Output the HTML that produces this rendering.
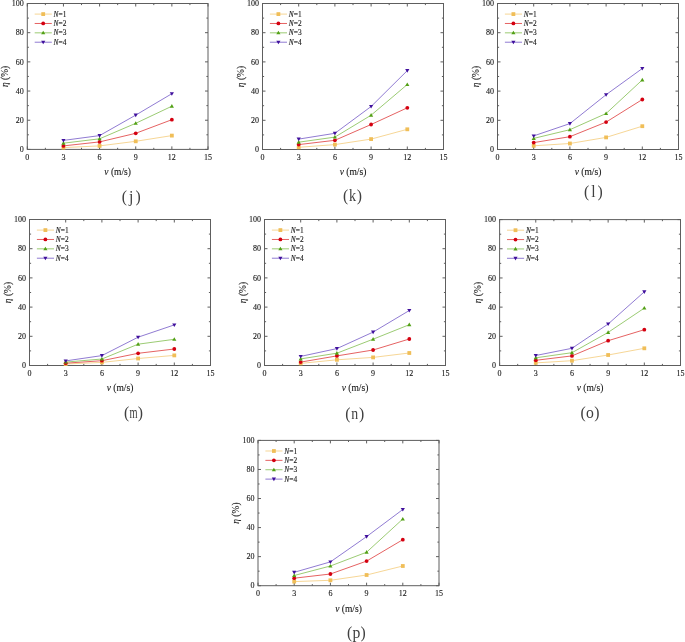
<!DOCTYPE html>
<html><head><meta charset="utf-8"><style>
html,body{margin:0;padding:0;background:#fff;}
body{width:685px;height:642px;overflow:hidden;}
svg{display:block;will-change:transform;}
text{font-family:"Liberation Serif",serif;fill:#1a1a1a;stroke:#1a1a1a;stroke-width:0.12px;}
.tl{font-size:8px;}
.at{font-size:9.5px;}
.lg{font-size:7.4px;}
.pl{font-size:15.7px;fill:#404040;stroke:none;}
</style></head><body>
<svg width="685" height="642" viewBox="0 0 685 642">
<g><rect x="27.3" y="3.5" width="180.7" height="145.9" fill="none" stroke="#5e5e5e" stroke-width="1"/><path d="M27.3 149.4v-3M27.3 3.5v3M45.37 149.4v-1.6M45.37 3.5v1.6M63.44 149.4v-3M63.44 3.5v3M81.51 149.4v-1.6M81.51 3.5v1.6M99.58 149.4v-3M99.58 3.5v3M117.65 149.4v-1.6M117.65 3.5v1.6M135.72 149.4v-3M135.72 3.5v3M153.79 149.4v-1.6M153.79 3.5v1.6M171.86 149.4v-3M171.86 3.5v3M189.93 149.4v-1.6M189.93 3.5v1.6M208 149.4v-3M208 3.5v3M27.3 149.4h3M208 149.4h-3M27.3 134.81h1.6M208 134.81h-1.6M27.3 120.22h3M208 120.22h-3M27.3 105.63h1.6M208 105.63h-1.6M27.3 91.04h3M208 91.04h-3M27.3 76.45h1.6M208 76.45h-1.6M27.3 61.86h3M208 61.86h-3M27.3 47.27h1.6M208 47.27h-1.6M27.3 32.68h3M208 32.68h-3M27.3 18.09h1.6M208 18.09h-1.6M27.3 3.5h3M208 3.5h-3" stroke="#5e5e5e" stroke-width="1" fill="none"/><text class="tl" x="27.3" y="159.9" text-anchor="middle">0</text><text class="tl" x="63.44" y="159.9" text-anchor="middle">3</text><text class="tl" x="99.58" y="159.9" text-anchor="middle">6</text><text class="tl" x="135.72" y="159.9" text-anchor="middle">9</text><text class="tl" x="171.86" y="159.9" text-anchor="middle">12</text><text class="tl" x="208" y="159.9" text-anchor="middle">15</text><text class="tl" x="23.8" y="152.1" text-anchor="end">0</text><text class="tl" x="23.8" y="122.92" text-anchor="end">20</text><text class="tl" x="23.8" y="93.74" text-anchor="end">40</text><text class="tl" x="23.8" y="64.56" text-anchor="end">60</text><text class="tl" x="23.8" y="35.38" text-anchor="end">80</text><text class="tl" x="23.8" y="6.2" text-anchor="end">100</text><text class="at" x="117.65" y="175.3" text-anchor="middle"><tspan font-style="italic">v</tspan> (m/s)</text><text class="at" transform="translate(8.4 76.45) rotate(-90)" text-anchor="middle"><tspan font-style="italic">η</tspan> (%)</text><polyline points="63.44,147.6 99.58,145.9 135.72,141.3 171.86,135.6" fill="none" stroke="#f5d490" stroke-width="0.95"/><polyline points="63.44,145.9 99.58,141.9 135.72,133.3 171.86,119.7" fill="none" stroke="#e45a5a" stroke-width="0.95"/><polyline points="63.44,143.2 99.58,138.8 135.72,123.3 171.86,106.2" fill="none" stroke="#96c86c" stroke-width="0.95"/><polyline points="63.44,140.4 99.58,135.6 135.72,115.1 171.86,93.7" fill="none" stroke="#8a74d0" stroke-width="0.95"/><rect x="61.54" y="145.7" width="3.8" height="3.8" fill="#f0be58"/><rect x="97.68" y="144" width="3.8" height="3.8" fill="#f0be58"/><rect x="133.82" y="139.4" width="3.8" height="3.8" fill="#f0be58"/><rect x="169.96" y="133.7" width="3.8" height="3.8" fill="#f0be58"/><circle cx="63.44" cy="145.9" r="1.9" fill="#d40010"/><circle cx="99.58" cy="141.9" r="1.9" fill="#d40010"/><circle cx="135.72" cy="133.3" r="1.9" fill="#d40010"/><circle cx="171.86" cy="119.7" r="1.9" fill="#d40010"/><path d="M63.44 141.11L65.53 144.72L61.35 144.72Z" fill="#52a015"/><path d="M99.58 136.71L101.67 140.32L97.49 140.32Z" fill="#52a015"/><path d="M135.72 121.21L137.81 124.82L133.63 124.82Z" fill="#52a015"/><path d="M171.86 104.11L173.95 107.72L169.77 107.72Z" fill="#52a015"/><path d="M63.44 142.49L65.53 138.88L61.35 138.88Z" fill="#40109c"/><path d="M99.58 137.69L101.67 134.08L97.49 134.08Z" fill="#40109c"/><path d="M135.72 117.19L137.81 113.58L133.63 113.58Z" fill="#40109c"/><path d="M171.86 95.79L173.95 92.18L169.77 92.18Z" fill="#40109c"/><line x1="34.7" y1="14.1" x2="51.8" y2="14.1" stroke="#f5d490" stroke-width="0.95"/><rect x="41.3" y="12.2" width="3.8" height="3.8" fill="#f0be58"/><text class="lg" x="53.6" y="16.6"><tspan font-style="italic">N</tspan>=<tspan>1</tspan></text><line x1="34.7" y1="23.47" x2="51.8" y2="23.47" stroke="#e45a5a" stroke-width="0.95"/><circle cx="43.2" cy="23.47" r="1.9" fill="#d40010"/><text class="lg" x="53.6" y="25.97"><tspan font-style="italic">N</tspan>=<tspan>2</tspan></text><line x1="34.7" y1="32.84" x2="51.8" y2="32.84" stroke="#96c86c" stroke-width="0.95"/><path d="M43.2 30.75L45.29 34.36L41.11 34.36Z" fill="#52a015"/><text class="lg" x="53.6" y="35.34"><tspan font-style="italic">N</tspan>=<tspan>3</tspan></text><line x1="34.7" y1="42.21" x2="51.8" y2="42.21" stroke="#8a74d0" stroke-width="0.95"/><path d="M43.2 44.3L45.29 40.69L41.11 40.69Z" fill="#40109c"/><text class="lg" x="53.6" y="44.71"><tspan font-style="italic">N</tspan>=<tspan>4</tspan></text><text class="pl" x="124.4" y="202.2" text-anchor="middle">(</text><text class="pl" transform="translate(131.2 202.2) scale(1.0 1)" text-anchor="middle">j</text><text class="pl" x="138" y="202.2" text-anchor="middle">)</text></g>
<g><rect x="262.5" y="3.5" width="181" height="146" fill="none" stroke="#5e5e5e" stroke-width="1"/><path d="M262.5 149.5v-3M262.5 3.5v3M280.6 149.5v-1.6M280.6 3.5v1.6M298.7 149.5v-3M298.7 3.5v3M316.8 149.5v-1.6M316.8 3.5v1.6M334.9 149.5v-3M334.9 3.5v3M353 149.5v-1.6M353 3.5v1.6M371.1 149.5v-3M371.1 3.5v3M389.2 149.5v-1.6M389.2 3.5v1.6M407.3 149.5v-3M407.3 3.5v3M425.4 149.5v-1.6M425.4 3.5v1.6M443.5 149.5v-3M443.5 3.5v3M262.5 149.5h3M443.5 149.5h-3M262.5 134.9h1.6M443.5 134.9h-1.6M262.5 120.3h3M443.5 120.3h-3M262.5 105.7h1.6M443.5 105.7h-1.6M262.5 91.1h3M443.5 91.1h-3M262.5 76.5h1.6M443.5 76.5h-1.6M262.5 61.9h3M443.5 61.9h-3M262.5 47.3h1.6M443.5 47.3h-1.6M262.5 32.7h3M443.5 32.7h-3M262.5 18.1h1.6M443.5 18.1h-1.6M262.5 3.5h3M443.5 3.5h-3" stroke="#5e5e5e" stroke-width="1" fill="none"/><text class="tl" x="262.5" y="160" text-anchor="middle">0</text><text class="tl" x="298.7" y="160" text-anchor="middle">3</text><text class="tl" x="334.9" y="160" text-anchor="middle">6</text><text class="tl" x="371.1" y="160" text-anchor="middle">9</text><text class="tl" x="407.3" y="160" text-anchor="middle">12</text><text class="tl" x="443.5" y="160" text-anchor="middle">15</text><text class="tl" x="259" y="152.2" text-anchor="end">0</text><text class="tl" x="259" y="123" text-anchor="end">20</text><text class="tl" x="259" y="93.8" text-anchor="end">40</text><text class="tl" x="259" y="64.6" text-anchor="end">60</text><text class="tl" x="259" y="35.4" text-anchor="end">80</text><text class="tl" x="259" y="6.2" text-anchor="end">100</text><text class="at" x="353" y="175.4" text-anchor="middle"><tspan font-style="italic">v</tspan> (m/s)</text><text class="at" transform="translate(243.6 76.5) rotate(-90)" text-anchor="middle"><tspan font-style="italic">η</tspan> (%)</text><polyline points="298.7,147.3 334.9,144.6 371.1,139.1 407.3,129.3" fill="none" stroke="#f5d490" stroke-width="0.95"/><polyline points="298.7,144.6 334.9,140.3 371.1,124.5 407.3,107.8" fill="none" stroke="#e45a5a" stroke-width="0.95"/><polyline points="298.7,142.2 334.9,137.1 371.1,115.2 407.3,84.5" fill="none" stroke="#96c86c" stroke-width="0.95"/><polyline points="298.7,139.1 334.9,133.3 371.1,106.5 407.3,70.6" fill="none" stroke="#8a74d0" stroke-width="0.95"/><rect x="296.8" y="145.4" width="3.8" height="3.8" fill="#f0be58"/><rect x="333" y="142.7" width="3.8" height="3.8" fill="#f0be58"/><rect x="369.2" y="137.2" width="3.8" height="3.8" fill="#f0be58"/><rect x="405.4" y="127.4" width="3.8" height="3.8" fill="#f0be58"/><circle cx="298.7" cy="144.6" r="1.9" fill="#d40010"/><circle cx="334.9" cy="140.3" r="1.9" fill="#d40010"/><circle cx="371.1" cy="124.5" r="1.9" fill="#d40010"/><circle cx="407.3" cy="107.8" r="1.9" fill="#d40010"/><path d="M298.7 140.11L300.79 143.72L296.61 143.72Z" fill="#52a015"/><path d="M334.9 135.01L336.99 138.62L332.81 138.62Z" fill="#52a015"/><path d="M371.1 113.11L373.19 116.72L369.01 116.72Z" fill="#52a015"/><path d="M407.3 82.41L409.39 86.02L405.21 86.02Z" fill="#52a015"/><path d="M298.7 141.19L300.79 137.58L296.61 137.58Z" fill="#40109c"/><path d="M334.9 135.39L336.99 131.78L332.81 131.78Z" fill="#40109c"/><path d="M371.1 108.59L373.19 104.98L369.01 104.98Z" fill="#40109c"/><path d="M407.3 72.69L409.39 69.08L405.21 69.08Z" fill="#40109c"/><line x1="269.9" y1="14.1" x2="287" y2="14.1" stroke="#f5d490" stroke-width="0.95"/><rect x="276.5" y="12.2" width="3.8" height="3.8" fill="#f0be58"/><text class="lg" x="288.8" y="16.6"><tspan font-style="italic">N</tspan>=<tspan>1</tspan></text><line x1="269.9" y1="23.47" x2="287" y2="23.47" stroke="#e45a5a" stroke-width="0.95"/><circle cx="278.4" cy="23.47" r="1.9" fill="#d40010"/><text class="lg" x="288.8" y="25.97"><tspan font-style="italic">N</tspan>=<tspan>2</tspan></text><line x1="269.9" y1="32.84" x2="287" y2="32.84" stroke="#96c86c" stroke-width="0.95"/><path d="M278.4 30.75L280.49 34.36L276.31 34.36Z" fill="#52a015"/><text class="lg" x="288.8" y="35.34"><tspan font-style="italic">N</tspan>=<tspan>3</tspan></text><line x1="269.9" y1="42.21" x2="287" y2="42.21" stroke="#8a74d0" stroke-width="0.95"/><path d="M278.4 44.3L280.49 40.69L276.31 40.69Z" fill="#40109c"/><text class="lg" x="288.8" y="44.71"><tspan font-style="italic">N</tspan>=<tspan>4</tspan></text><text class="pl" x="345.7" y="200.9" text-anchor="middle">(</text><text class="pl" transform="translate(352.5 200.9) scale(0.9 1)" text-anchor="middle">k</text><text class="pl" x="359.3" y="200.9" text-anchor="middle">)</text></g>
<g><rect x="497.5" y="3.5" width="181" height="146" fill="none" stroke="#5e5e5e" stroke-width="1"/><path d="M497.5 149.5v-3M497.5 3.5v3M515.6 149.5v-1.6M515.6 3.5v1.6M533.7 149.5v-3M533.7 3.5v3M551.8 149.5v-1.6M551.8 3.5v1.6M569.9 149.5v-3M569.9 3.5v3M588 149.5v-1.6M588 3.5v1.6M606.1 149.5v-3M606.1 3.5v3M624.2 149.5v-1.6M624.2 3.5v1.6M642.3 149.5v-3M642.3 3.5v3M660.4 149.5v-1.6M660.4 3.5v1.6M678.5 149.5v-3M678.5 3.5v3M497.5 149.5h3M678.5 149.5h-3M497.5 134.9h1.6M678.5 134.9h-1.6M497.5 120.3h3M678.5 120.3h-3M497.5 105.7h1.6M678.5 105.7h-1.6M497.5 91.1h3M678.5 91.1h-3M497.5 76.5h1.6M678.5 76.5h-1.6M497.5 61.9h3M678.5 61.9h-3M497.5 47.3h1.6M678.5 47.3h-1.6M497.5 32.7h3M678.5 32.7h-3M497.5 18.1h1.6M678.5 18.1h-1.6M497.5 3.5h3M678.5 3.5h-3" stroke="#5e5e5e" stroke-width="1" fill="none"/><text class="tl" x="497.5" y="160" text-anchor="middle">0</text><text class="tl" x="533.7" y="160" text-anchor="middle">3</text><text class="tl" x="569.9" y="160" text-anchor="middle">6</text><text class="tl" x="606.1" y="160" text-anchor="middle">9</text><text class="tl" x="642.3" y="160" text-anchor="middle">12</text><text class="tl" x="678.5" y="160" text-anchor="middle">15</text><text class="tl" x="494" y="152.2" text-anchor="end">0</text><text class="tl" x="494" y="123" text-anchor="end">20</text><text class="tl" x="494" y="93.8" text-anchor="end">40</text><text class="tl" x="494" y="64.6" text-anchor="end">60</text><text class="tl" x="494" y="35.4" text-anchor="end">80</text><text class="tl" x="494" y="6.2" text-anchor="end">100</text><text class="at" x="588" y="175.4" text-anchor="middle"><tspan font-style="italic">v</tspan> (m/s)</text><text class="at" transform="translate(478.6 76.5) rotate(-90)" text-anchor="middle"><tspan font-style="italic">η</tspan> (%)</text><polyline points="533.7,145.8 569.9,143.5 606.1,137.4 642.3,126.2" fill="none" stroke="#f5d490" stroke-width="0.95"/><polyline points="533.7,142.6 569.9,136.7 606.1,122.1 642.3,99.5" fill="none" stroke="#e45a5a" stroke-width="0.95"/><polyline points="533.7,138.4 569.9,129.7 606.1,113.5 642.3,79.9" fill="none" stroke="#96c86c" stroke-width="0.95"/><polyline points="533.7,135.9 569.9,123.6 606.1,94.7 642.3,68.5" fill="none" stroke="#8a74d0" stroke-width="0.95"/><rect x="531.8" y="143.9" width="3.8" height="3.8" fill="#f0be58"/><rect x="568" y="141.6" width="3.8" height="3.8" fill="#f0be58"/><rect x="604.2" y="135.5" width="3.8" height="3.8" fill="#f0be58"/><rect x="640.4" y="124.3" width="3.8" height="3.8" fill="#f0be58"/><circle cx="533.7" cy="142.6" r="1.9" fill="#d40010"/><circle cx="569.9" cy="136.7" r="1.9" fill="#d40010"/><circle cx="606.1" cy="122.1" r="1.9" fill="#d40010"/><circle cx="642.3" cy="99.5" r="1.9" fill="#d40010"/><path d="M533.7 136.31L535.79 139.92L531.61 139.92Z" fill="#52a015"/><path d="M569.9 127.61L571.99 131.22L567.81 131.22Z" fill="#52a015"/><path d="M606.1 111.41L608.19 115.02L604.01 115.02Z" fill="#52a015"/><path d="M642.3 77.81L644.39 81.42L640.21 81.42Z" fill="#52a015"/><path d="M533.7 137.99L535.79 134.38L531.61 134.38Z" fill="#40109c"/><path d="M569.9 125.69L571.99 122.08L567.81 122.08Z" fill="#40109c"/><path d="M606.1 96.79L608.19 93.18L604.01 93.18Z" fill="#40109c"/><path d="M642.3 70.59L644.39 66.98L640.21 66.98Z" fill="#40109c"/><line x1="504.9" y1="14.1" x2="522" y2="14.1" stroke="#f5d490" stroke-width="0.95"/><rect x="511.5" y="12.2" width="3.8" height="3.8" fill="#f0be58"/><text class="lg" x="523.8" y="16.6"><tspan font-style="italic">N</tspan>=<tspan>1</tspan></text><line x1="504.9" y1="23.47" x2="522" y2="23.47" stroke="#e45a5a" stroke-width="0.95"/><circle cx="513.4" cy="23.47" r="1.9" fill="#d40010"/><text class="lg" x="523.8" y="25.97"><tspan font-style="italic">N</tspan>=<tspan>2</tspan></text><line x1="504.9" y1="32.84" x2="522" y2="32.84" stroke="#96c86c" stroke-width="0.95"/><path d="M513.4 30.75L515.49 34.36L511.31 34.36Z" fill="#52a015"/><text class="lg" x="523.8" y="35.34"><tspan font-style="italic">N</tspan>=<tspan>3</tspan></text><line x1="504.9" y1="42.21" x2="522" y2="42.21" stroke="#8a74d0" stroke-width="0.95"/><path d="M513.4 44.3L515.49 40.69L511.31 40.69Z" fill="#40109c"/><text class="lg" x="523.8" y="44.71"><tspan font-style="italic">N</tspan>=<tspan>4</tspan></text><text class="pl" x="586.6" y="196.7" text-anchor="middle">(</text><text class="pl" transform="translate(593.4 196.7) scale(1.0 1)" text-anchor="middle">l</text><text class="pl" x="600.2" y="196.7" text-anchor="middle">)</text></g>
<g><rect x="29.5" y="219.5" width="181" height="146" fill="none" stroke="#5e5e5e" stroke-width="1"/><path d="M29.5 365.5v-3M29.5 219.5v3M47.6 365.5v-1.6M47.6 219.5v1.6M65.7 365.5v-3M65.7 219.5v3M83.8 365.5v-1.6M83.8 219.5v1.6M101.9 365.5v-3M101.9 219.5v3M120 365.5v-1.6M120 219.5v1.6M138.1 365.5v-3M138.1 219.5v3M156.2 365.5v-1.6M156.2 219.5v1.6M174.3 365.5v-3M174.3 219.5v3M192.4 365.5v-1.6M192.4 219.5v1.6M210.5 365.5v-3M210.5 219.5v3M29.5 365.5h3M210.5 365.5h-3M29.5 350.9h1.6M210.5 350.9h-1.6M29.5 336.3h3M210.5 336.3h-3M29.5 321.7h1.6M210.5 321.7h-1.6M29.5 307.1h3M210.5 307.1h-3M29.5 292.5h1.6M210.5 292.5h-1.6M29.5 277.9h3M210.5 277.9h-3M29.5 263.3h1.6M210.5 263.3h-1.6M29.5 248.7h3M210.5 248.7h-3M29.5 234.1h1.6M210.5 234.1h-1.6M29.5 219.5h3M210.5 219.5h-3" stroke="#5e5e5e" stroke-width="1" fill="none"/><text class="tl" x="29.5" y="376" text-anchor="middle">0</text><text class="tl" x="65.7" y="376" text-anchor="middle">3</text><text class="tl" x="101.9" y="376" text-anchor="middle">6</text><text class="tl" x="138.1" y="376" text-anchor="middle">9</text><text class="tl" x="174.3" y="376" text-anchor="middle">12</text><text class="tl" x="210.5" y="376" text-anchor="middle">15</text><text class="tl" x="26" y="368.2" text-anchor="end">0</text><text class="tl" x="26" y="339" text-anchor="end">20</text><text class="tl" x="26" y="309.8" text-anchor="end">40</text><text class="tl" x="26" y="280.6" text-anchor="end">60</text><text class="tl" x="26" y="251.4" text-anchor="end">80</text><text class="tl" x="26" y="222.2" text-anchor="end">100</text><text class="at" x="120" y="391.4" text-anchor="middle"><tspan font-style="italic">v</tspan> (m/s)</text><text class="at" transform="translate(10.6 292.5) rotate(-90)" text-anchor="middle"><tspan font-style="italic">η</tspan> (%)</text><polyline points="65.7,364 101.9,362.4 138.1,358.5 174.3,355.4" fill="none" stroke="#f5d490" stroke-width="0.95"/><polyline points="65.7,363.2 101.9,360.7 138.1,353.3 174.3,349" fill="none" stroke="#e45a5a" stroke-width="0.95"/><polyline points="65.7,362.1 101.9,359 138.1,344.2 174.3,339.3" fill="none" stroke="#96c86c" stroke-width="0.95"/><polyline points="65.7,360.9 101.9,355.6 138.1,337.2 174.3,324.9" fill="none" stroke="#8a74d0" stroke-width="0.95"/><rect x="63.8" y="362.1" width="3.8" height="3.8" fill="#f0be58"/><rect x="100" y="360.5" width="3.8" height="3.8" fill="#f0be58"/><rect x="136.2" y="356.6" width="3.8" height="3.8" fill="#f0be58"/><rect x="172.4" y="353.5" width="3.8" height="3.8" fill="#f0be58"/><circle cx="65.7" cy="363.2" r="1.9" fill="#d40010"/><circle cx="101.9" cy="360.7" r="1.9" fill="#d40010"/><circle cx="138.1" cy="353.3" r="1.9" fill="#d40010"/><circle cx="174.3" cy="349" r="1.9" fill="#d40010"/><path d="M65.7 360.01L67.79 363.62L63.61 363.62Z" fill="#52a015"/><path d="M101.9 356.91L103.99 360.52L99.81 360.52Z" fill="#52a015"/><path d="M138.1 342.11L140.19 345.72L136.01 345.72Z" fill="#52a015"/><path d="M174.3 337.21L176.39 340.82L172.21 340.82Z" fill="#52a015"/><path d="M65.7 362.99L67.79 359.38L63.61 359.38Z" fill="#40109c"/><path d="M101.9 357.69L103.99 354.08L99.81 354.08Z" fill="#40109c"/><path d="M138.1 339.29L140.19 335.68L136.01 335.68Z" fill="#40109c"/><path d="M174.3 326.99L176.39 323.38L172.21 323.38Z" fill="#40109c"/><line x1="36.9" y1="230.1" x2="54" y2="230.1" stroke="#f5d490" stroke-width="0.95"/><rect x="43.5" y="228.2" width="3.8" height="3.8" fill="#f0be58"/><text class="lg" x="55.8" y="232.6"><tspan font-style="italic">N</tspan>=<tspan>1</tspan></text><line x1="36.9" y1="239.47" x2="54" y2="239.47" stroke="#e45a5a" stroke-width="0.95"/><circle cx="45.4" cy="239.47" r="1.9" fill="#d40010"/><text class="lg" x="55.8" y="241.97"><tspan font-style="italic">N</tspan>=<tspan>2</tspan></text><line x1="36.9" y1="248.84" x2="54" y2="248.84" stroke="#96c86c" stroke-width="0.95"/><path d="M45.4 246.75L47.49 250.36L43.31 250.36Z" fill="#52a015"/><text class="lg" x="55.8" y="251.34"><tspan font-style="italic">N</tspan>=<tspan>3</tspan></text><line x1="36.9" y1="258.21" x2="54" y2="258.21" stroke="#8a74d0" stroke-width="0.95"/><path d="M45.4 260.3L47.49 256.69L43.31 256.69Z" fill="#40109c"/><text class="lg" x="55.8" y="260.71"><tspan font-style="italic">N</tspan>=<tspan>4</tspan></text><text class="pl" x="126.7" y="417.9" text-anchor="middle">(</text><text class="pl" transform="translate(133.5 417.9) scale(0.66 1)" text-anchor="middle">m</text><text class="pl" x="140.3" y="417.9" text-anchor="middle">)</text></g>
<g><rect x="264.5" y="219.5" width="181" height="146" fill="none" stroke="#5e5e5e" stroke-width="1"/><path d="M264.5 365.5v-3M264.5 219.5v3M282.6 365.5v-1.6M282.6 219.5v1.6M300.7 365.5v-3M300.7 219.5v3M318.8 365.5v-1.6M318.8 219.5v1.6M336.9 365.5v-3M336.9 219.5v3M355 365.5v-1.6M355 219.5v1.6M373.1 365.5v-3M373.1 219.5v3M391.2 365.5v-1.6M391.2 219.5v1.6M409.3 365.5v-3M409.3 219.5v3M427.4 365.5v-1.6M427.4 219.5v1.6M445.5 365.5v-3M445.5 219.5v3M264.5 365.5h3M445.5 365.5h-3M264.5 350.9h1.6M445.5 350.9h-1.6M264.5 336.3h3M445.5 336.3h-3M264.5 321.7h1.6M445.5 321.7h-1.6M264.5 307.1h3M445.5 307.1h-3M264.5 292.5h1.6M445.5 292.5h-1.6M264.5 277.9h3M445.5 277.9h-3M264.5 263.3h1.6M445.5 263.3h-1.6M264.5 248.7h3M445.5 248.7h-3M264.5 234.1h1.6M445.5 234.1h-1.6M264.5 219.5h3M445.5 219.5h-3" stroke="#5e5e5e" stroke-width="1" fill="none"/><text class="tl" x="264.5" y="376" text-anchor="middle">0</text><text class="tl" x="300.7" y="376" text-anchor="middle">3</text><text class="tl" x="336.9" y="376" text-anchor="middle">6</text><text class="tl" x="373.1" y="376" text-anchor="middle">9</text><text class="tl" x="409.3" y="376" text-anchor="middle">12</text><text class="tl" x="445.5" y="376" text-anchor="middle">15</text><text class="tl" x="261" y="368.2" text-anchor="end">0</text><text class="tl" x="261" y="339" text-anchor="end">20</text><text class="tl" x="261" y="309.8" text-anchor="end">40</text><text class="tl" x="261" y="280.6" text-anchor="end">60</text><text class="tl" x="261" y="251.4" text-anchor="end">80</text><text class="tl" x="261" y="222.2" text-anchor="end">100</text><text class="at" x="355" y="391.4" text-anchor="middle"><tspan font-style="italic">v</tspan> (m/s)</text><text class="at" transform="translate(245.6 292.5) rotate(-90)" text-anchor="middle"><tspan font-style="italic">η</tspan> (%)</text><polyline points="300.7,363.4 336.9,359.8 373.1,357.4 409.3,353" fill="none" stroke="#f5d490" stroke-width="0.95"/><polyline points="300.7,362.1 336.9,355.9 373.1,350 409.3,339" fill="none" stroke="#e45a5a" stroke-width="0.95"/><polyline points="300.7,358.9 336.9,353.2 373.1,339.2 409.3,324.7" fill="none" stroke="#96c86c" stroke-width="0.95"/><polyline points="300.7,356.4 336.9,348.6 373.1,332.1 409.3,310.5" fill="none" stroke="#8a74d0" stroke-width="0.95"/><rect x="298.8" y="361.5" width="3.8" height="3.8" fill="#f0be58"/><rect x="335" y="357.9" width="3.8" height="3.8" fill="#f0be58"/><rect x="371.2" y="355.5" width="3.8" height="3.8" fill="#f0be58"/><rect x="407.4" y="351.1" width="3.8" height="3.8" fill="#f0be58"/><circle cx="300.7" cy="362.1" r="1.9" fill="#d40010"/><circle cx="336.9" cy="355.9" r="1.9" fill="#d40010"/><circle cx="373.1" cy="350" r="1.9" fill="#d40010"/><circle cx="409.3" cy="339" r="1.9" fill="#d40010"/><path d="M300.7 356.81L302.79 360.42L298.61 360.42Z" fill="#52a015"/><path d="M336.9 351.11L338.99 354.72L334.81 354.72Z" fill="#52a015"/><path d="M373.1 337.11L375.19 340.72L371.01 340.72Z" fill="#52a015"/><path d="M409.3 322.61L411.39 326.22L407.21 326.22Z" fill="#52a015"/><path d="M300.7 358.49L302.79 354.88L298.61 354.88Z" fill="#40109c"/><path d="M336.9 350.69L338.99 347.08L334.81 347.08Z" fill="#40109c"/><path d="M373.1 334.19L375.19 330.58L371.01 330.58Z" fill="#40109c"/><path d="M409.3 312.59L411.39 308.98L407.21 308.98Z" fill="#40109c"/><line x1="271.9" y1="230.1" x2="289" y2="230.1" stroke="#f5d490" stroke-width="0.95"/><rect x="278.5" y="228.2" width="3.8" height="3.8" fill="#f0be58"/><text class="lg" x="290.8" y="232.6"><tspan font-style="italic">N</tspan>=<tspan>1</tspan></text><line x1="271.9" y1="239.47" x2="289" y2="239.47" stroke="#e45a5a" stroke-width="0.95"/><circle cx="280.4" cy="239.47" r="1.9" fill="#d40010"/><text class="lg" x="290.8" y="241.97"><tspan font-style="italic">N</tspan>=<tspan>2</tspan></text><line x1="271.9" y1="248.84" x2="289" y2="248.84" stroke="#96c86c" stroke-width="0.95"/><path d="M280.4 246.75L282.49 250.36L278.31 250.36Z" fill="#52a015"/><text class="lg" x="290.8" y="251.34"><tspan font-style="italic">N</tspan>=<tspan>3</tspan></text><line x1="271.9" y1="258.21" x2="289" y2="258.21" stroke="#8a74d0" stroke-width="0.95"/><path d="M280.4 260.3L282.49 256.69L278.31 256.69Z" fill="#40109c"/><text class="lg" x="290.8" y="260.71"><tspan font-style="italic">N</tspan>=<tspan>4</tspan></text><text class="pl" x="347.9" y="419" text-anchor="middle">(</text><text class="pl" transform="translate(354.7 419) scale(0.88 1)" text-anchor="middle">n</text><text class="pl" x="361.5" y="419" text-anchor="middle">)</text></g>
<g><rect x="499.6" y="219.6" width="180.9" height="145.9" fill="none" stroke="#5e5e5e" stroke-width="1"/><path d="M499.6 365.5v-3M499.6 219.6v3M517.69 365.5v-1.6M517.69 219.6v1.6M535.78 365.5v-3M535.78 219.6v3M553.87 365.5v-1.6M553.87 219.6v1.6M571.96 365.5v-3M571.96 219.6v3M590.05 365.5v-1.6M590.05 219.6v1.6M608.14 365.5v-3M608.14 219.6v3M626.23 365.5v-1.6M626.23 219.6v1.6M644.32 365.5v-3M644.32 219.6v3M662.41 365.5v-1.6M662.41 219.6v1.6M680.5 365.5v-3M680.5 219.6v3M499.6 365.5h3M680.5 365.5h-3M499.6 350.91h1.6M680.5 350.91h-1.6M499.6 336.32h3M680.5 336.32h-3M499.6 321.73h1.6M680.5 321.73h-1.6M499.6 307.14h3M680.5 307.14h-3M499.6 292.55h1.6M680.5 292.55h-1.6M499.6 277.96h3M680.5 277.96h-3M499.6 263.37h1.6M680.5 263.37h-1.6M499.6 248.78h3M680.5 248.78h-3M499.6 234.19h1.6M680.5 234.19h-1.6M499.6 219.6h3M680.5 219.6h-3" stroke="#5e5e5e" stroke-width="1" fill="none"/><text class="tl" x="499.6" y="376" text-anchor="middle">0</text><text class="tl" x="535.78" y="376" text-anchor="middle">3</text><text class="tl" x="571.96" y="376" text-anchor="middle">6</text><text class="tl" x="608.14" y="376" text-anchor="middle">9</text><text class="tl" x="644.32" y="376" text-anchor="middle">12</text><text class="tl" x="680.5" y="376" text-anchor="middle">15</text><text class="tl" x="496.1" y="368.2" text-anchor="end">0</text><text class="tl" x="496.1" y="339.02" text-anchor="end">20</text><text class="tl" x="496.1" y="309.84" text-anchor="end">40</text><text class="tl" x="496.1" y="280.66" text-anchor="end">60</text><text class="tl" x="496.1" y="251.48" text-anchor="end">80</text><text class="tl" x="496.1" y="222.3" text-anchor="end">100</text><text class="at" x="590.05" y="391.4" text-anchor="middle"><tspan font-style="italic">v</tspan> (m/s)</text><text class="at" transform="translate(480.7 292.55) rotate(-90)" text-anchor="middle"><tspan font-style="italic">η</tspan> (%)</text><polyline points="535.78,362.9 571.96,360.7 608.14,355 644.32,348.3" fill="none" stroke="#f5d490" stroke-width="0.95"/><polyline points="535.78,360.3 571.96,355.9 608.14,340.7 644.32,329.7" fill="none" stroke="#e45a5a" stroke-width="0.95"/><polyline points="535.78,357.8 571.96,352.7 608.14,332.4 644.32,308.1" fill="none" stroke="#96c86c" stroke-width="0.95"/><polyline points="535.78,355.5 571.96,348.3 608.14,324 644.32,291.8" fill="none" stroke="#8a74d0" stroke-width="0.95"/><rect x="533.88" y="361" width="3.8" height="3.8" fill="#f0be58"/><rect x="570.06" y="358.8" width="3.8" height="3.8" fill="#f0be58"/><rect x="606.24" y="353.1" width="3.8" height="3.8" fill="#f0be58"/><rect x="642.42" y="346.4" width="3.8" height="3.8" fill="#f0be58"/><circle cx="535.78" cy="360.3" r="1.9" fill="#d40010"/><circle cx="571.96" cy="355.9" r="1.9" fill="#d40010"/><circle cx="608.14" cy="340.7" r="1.9" fill="#d40010"/><circle cx="644.32" cy="329.7" r="1.9" fill="#d40010"/><path d="M535.78 355.71L537.87 359.32L533.69 359.32Z" fill="#52a015"/><path d="M571.96 350.61L574.05 354.22L569.87 354.22Z" fill="#52a015"/><path d="M608.14 330.31L610.23 333.92L606.05 333.92Z" fill="#52a015"/><path d="M644.32 306.01L646.41 309.62L642.23 309.62Z" fill="#52a015"/><path d="M535.78 357.59L537.87 353.98L533.69 353.98Z" fill="#40109c"/><path d="M571.96 350.39L574.05 346.78L569.87 346.78Z" fill="#40109c"/><path d="M608.14 326.09L610.23 322.48L606.05 322.48Z" fill="#40109c"/><path d="M644.32 293.89L646.41 290.28L642.23 290.28Z" fill="#40109c"/><line x1="507" y1="230.2" x2="524.1" y2="230.2" stroke="#f5d490" stroke-width="0.95"/><rect x="513.6" y="228.3" width="3.8" height="3.8" fill="#f0be58"/><text class="lg" x="525.9" y="232.7"><tspan font-style="italic">N</tspan>=<tspan>1</tspan></text><line x1="507" y1="239.57" x2="524.1" y2="239.57" stroke="#e45a5a" stroke-width="0.95"/><circle cx="515.5" cy="239.57" r="1.9" fill="#d40010"/><text class="lg" x="525.9" y="242.07"><tspan font-style="italic">N</tspan>=<tspan>2</tspan></text><line x1="507" y1="248.94" x2="524.1" y2="248.94" stroke="#96c86c" stroke-width="0.95"/><path d="M515.5 246.85L517.59 250.46L513.41 250.46Z" fill="#52a015"/><text class="lg" x="525.9" y="251.44"><tspan font-style="italic">N</tspan>=<tspan>3</tspan></text><line x1="507" y1="258.31" x2="524.1" y2="258.31" stroke="#8a74d0" stroke-width="0.95"/><path d="M515.5 260.4L517.59 256.79L513.41 256.79Z" fill="#40109c"/><text class="lg" x="525.9" y="260.81"><tspan font-style="italic">N</tspan>=<tspan>4</tspan></text><text class="pl" x="583.2" y="417.9" text-anchor="middle">(</text><text class="pl" transform="translate(590 417.9) scale(1.0 1)" text-anchor="middle">o</text><text class="pl" x="596.8" y="417.9" text-anchor="middle">)</text></g>
<g><rect x="258" y="440.4" width="181" height="145.3" fill="none" stroke="#5e5e5e" stroke-width="1"/><path d="M258 585.7v-3M258 440.4v3M276.1 585.7v-1.6M276.1 440.4v1.6M294.2 585.7v-3M294.2 440.4v3M312.3 585.7v-1.6M312.3 440.4v1.6M330.4 585.7v-3M330.4 440.4v3M348.5 585.7v-1.6M348.5 440.4v1.6M366.6 585.7v-3M366.6 440.4v3M384.7 585.7v-1.6M384.7 440.4v1.6M402.8 585.7v-3M402.8 440.4v3M420.9 585.7v-1.6M420.9 440.4v1.6M439 585.7v-3M439 440.4v3M258 585.7h3M439 585.7h-3M258 571.17h1.6M439 571.17h-1.6M258 556.64h3M439 556.64h-3M258 542.11h1.6M439 542.11h-1.6M258 527.58h3M439 527.58h-3M258 513.05h1.6M439 513.05h-1.6M258 498.52h3M439 498.52h-3M258 483.99h1.6M439 483.99h-1.6M258 469.46h3M439 469.46h-3M258 454.93h1.6M439 454.93h-1.6M258 440.4h3M439 440.4h-3" stroke="#5e5e5e" stroke-width="1" fill="none"/><text class="tl" x="258" y="596.2" text-anchor="middle">0</text><text class="tl" x="294.2" y="596.2" text-anchor="middle">3</text><text class="tl" x="330.4" y="596.2" text-anchor="middle">6</text><text class="tl" x="366.6" y="596.2" text-anchor="middle">9</text><text class="tl" x="402.8" y="596.2" text-anchor="middle">12</text><text class="tl" x="439" y="596.2" text-anchor="middle">15</text><text class="tl" x="254.5" y="588.4" text-anchor="end">0</text><text class="tl" x="254.5" y="559.34" text-anchor="end">20</text><text class="tl" x="254.5" y="530.28" text-anchor="end">40</text><text class="tl" x="254.5" y="501.22" text-anchor="end">60</text><text class="tl" x="254.5" y="472.16" text-anchor="end">80</text><text class="tl" x="254.5" y="443.1" text-anchor="end">100</text><text class="at" x="348.5" y="611.6" text-anchor="middle"><tspan font-style="italic">v</tspan> (m/s)</text><text class="at" transform="translate(239.1 513.05) rotate(-90)" text-anchor="middle"><tspan font-style="italic">η</tspan> (%)</text><polyline points="294.2,581.6 330.4,580.3 366.6,575 402.8,566" fill="none" stroke="#f5d490" stroke-width="0.95"/><polyline points="294.2,578.2 330.4,574 366.6,561.1 402.8,539.7" fill="none" stroke="#e45a5a" stroke-width="0.95"/><polyline points="294.2,575.5 330.4,566 366.6,552.2 402.8,519" fill="none" stroke="#96c86c" stroke-width="0.95"/><polyline points="294.2,572.3 330.4,561.9 366.6,536.6 402.8,509.5" fill="none" stroke="#8a74d0" stroke-width="0.95"/><rect x="292.3" y="579.7" width="3.8" height="3.8" fill="#f0be58"/><rect x="328.5" y="578.4" width="3.8" height="3.8" fill="#f0be58"/><rect x="364.7" y="573.1" width="3.8" height="3.8" fill="#f0be58"/><rect x="400.9" y="564.1" width="3.8" height="3.8" fill="#f0be58"/><circle cx="294.2" cy="578.2" r="1.9" fill="#d40010"/><circle cx="330.4" cy="574" r="1.9" fill="#d40010"/><circle cx="366.6" cy="561.1" r="1.9" fill="#d40010"/><circle cx="402.8" cy="539.7" r="1.9" fill="#d40010"/><path d="M294.2 573.41L296.29 577.02L292.11 577.02Z" fill="#52a015"/><path d="M330.4 563.91L332.49 567.52L328.31 567.52Z" fill="#52a015"/><path d="M366.6 550.11L368.69 553.72L364.51 553.72Z" fill="#52a015"/><path d="M402.8 516.91L404.89 520.52L400.71 520.52Z" fill="#52a015"/><path d="M294.2 574.39L296.29 570.78L292.11 570.78Z" fill="#40109c"/><path d="M330.4 563.99L332.49 560.38L328.31 560.38Z" fill="#40109c"/><path d="M366.6 538.69L368.69 535.08L364.51 535.08Z" fill="#40109c"/><path d="M402.8 511.59L404.89 507.98L400.71 507.98Z" fill="#40109c"/><line x1="265.4" y1="451" x2="282.5" y2="451" stroke="#f5d490" stroke-width="0.95"/><rect x="272" y="449.1" width="3.8" height="3.8" fill="#f0be58"/><text class="lg" x="284.3" y="453.5"><tspan font-style="italic">N</tspan>=<tspan>1</tspan></text><line x1="265.4" y1="460.37" x2="282.5" y2="460.37" stroke="#e45a5a" stroke-width="0.95"/><circle cx="273.9" cy="460.37" r="1.9" fill="#d40010"/><text class="lg" x="284.3" y="462.87"><tspan font-style="italic">N</tspan>=<tspan>2</tspan></text><line x1="265.4" y1="469.74" x2="282.5" y2="469.74" stroke="#96c86c" stroke-width="0.95"/><path d="M273.9 467.65L275.99 471.26L271.81 471.26Z" fill="#52a015"/><text class="lg" x="284.3" y="472.24"><tspan font-style="italic">N</tspan>=<tspan>3</tspan></text><line x1="265.4" y1="479.11" x2="282.5" y2="479.11" stroke="#8a74d0" stroke-width="0.95"/><path d="M273.9 481.2L275.99 477.59L271.81 477.59Z" fill="#40109c"/><text class="lg" x="284.3" y="481.61"><tspan font-style="italic">N</tspan>=<tspan>4</tspan></text><text class="pl" x="349.6" y="638.3" text-anchor="middle">(</text><text class="pl" transform="translate(356.4 638.3) scale(1.0 1)" text-anchor="middle">p</text><text class="pl" x="363.2" y="638.3" text-anchor="middle">)</text></g>
</svg>
</body></html>
